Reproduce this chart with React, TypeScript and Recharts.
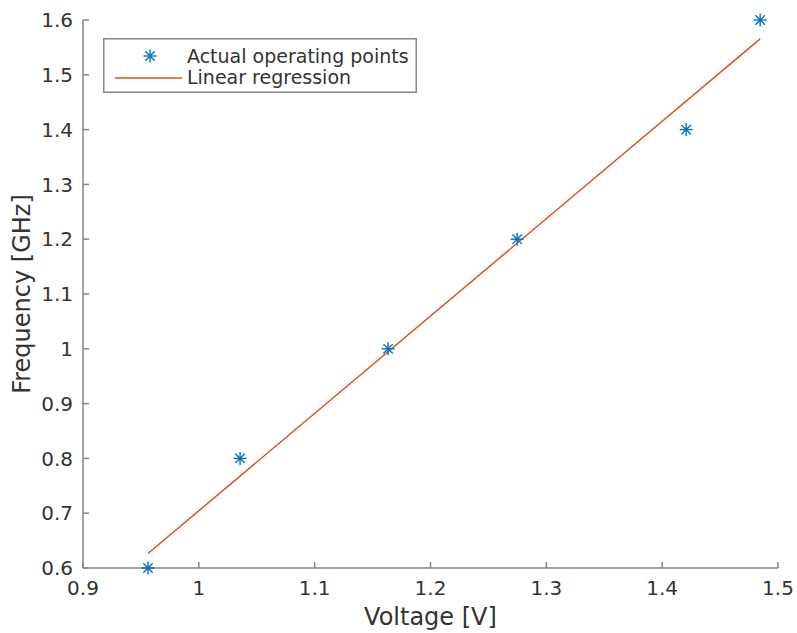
import React from 'react';
import { ComposedChart, Scatter, XAxis, YAxis, Legend } from 'recharts';

const voltages = [0.9561, 1.0356, 1.1634, 1.2748, 1.4207, 1.4846];
const frequencies = [0.6, 0.8, 1.0, 1.2, 1.4, 1.6];
const regressionX = [0.9561, 1.4846];
const regressionY = [0.6265, 1.5655];
const xTicks = [0.9, 1, 1.1, 1.2, 1.3, 1.4, 1.5];
const yTicks = [0.6, 0.7, 0.8, 0.9, 1, 1.1, 1.2, 1.3, 1.4, 1.5, 1.6];
const seriesNames = ['Actual operating points', 'Linear regression'];

const pointData = voltages.map((v, i) => ({ x: v, y: frequencies[i] }));
const lineData = regressionX.map((v, i) => ({ x: v, y: regressionY[i] }));

const BLUE = '#0072BD';
const ORANGE = '#D95319';
const AXIS = '#858585';
const TEXT = '#333333';
const FONT = '"DejaVu Sans", sans-serif';

const Star = (props: any) => {
  const { cx, cy } = props;
  if (cx == null || cy == null) return null;
  const r = 6.5;
  const d = r * 0.72;
  return (
    <g stroke={BLUE} strokeWidth={1.4}>
      <line x1={cx - r} y1={cy} x2={cx + r} y2={cy} />
      <line x1={cx} y1={cy - r} x2={cx} y2={cy + r} />
      <line x1={cx - d} y1={cy - d} x2={cx + d} y2={cy + d} />
      <line x1={cx - d} y1={cy + d} x2={cx + d} y2={cy - d} />
    </g>
  );
};

const NoShape = () => null;

const LegendBox = () => (
  <svg width={314} height={55} style={{ display: 'block' }}>
    <rect x={0.75} y={0.75} width={312.5} height={53.5} fill="#fff" stroke={AXIS} strokeWidth={1.5} />
    <Star cx={47} cy={18} />
    <text x={84} y={18} dy="0.36em" fontFamily={FONT} fontSize={19} fill={TEXT}>{seriesNames[0]}</text>
    <line x1={12} y1={40} x2={79} y2={40} stroke={ORANGE} strokeWidth={1.5} />
    <text x={84} y={39} dy="0.36em" fontFamily={FONT} fontSize={19} fill={TEXT}>{seriesNames[1]}</text>
  </svg>
);

const YLabel = (props: any) => {
  const vb = props.viewBox || { y: 20, height: 548 };
  const x = 30;
  const y = vb.y + vb.height / 2;
  return (
    <text x={x} y={y} transform={`rotate(-90, ${x}, ${y})`} textAnchor="middle" fontFamily={FONT} fontSize={24} fill={TEXT}>
      Frequency [GHz]
    </text>
  );
};

const XLabel = (props: any) => {
  const vb = props.viewBox || { x: 83, width: 695 };
  const x = vb.x + vb.width / 2;
  return (
    <text x={x} y={625} textAnchor="middle" fontFamily={FONT} fontSize={24} fill={TEXT}>
      Voltage [V]
    </text>
  );
};

export default function App() {
  return (
    <div style={{ position: 'absolute', left: 0, top: 0, width: 797, height: 633, background: '#fff' }}>
      <ComposedChart width={797} height={633} margin={{ top: 20, right: 19, bottom: 0, left: 0 }}>
        <XAxis
          type="number"
          dataKey="x"
          domain={[0.9, 1.5]}
          ticks={xTicks}
          height={65}
          stroke={AXIS}
          strokeWidth={1.5}
          tickSize={-6}
          tickMargin={19}
          tick={{ fill: TEXT, fontSize: 20, fontFamily: FONT }}
          label={{ content: XLabel }}
        />
        <YAxis
          type="number"
          dataKey="y"
          domain={[0.6, 1.6]}
          ticks={yTicks}
          width={83}
          stroke={AXIS}
          strokeWidth={1.5}
          tickSize={-6}
          tickMargin={16}
          tick={{ fill: TEXT, fontSize: 20, fontFamily: FONT }}
          label={{ content: YLabel }}
        />
        <Scatter
          name={seriesNames[1]}
          data={lineData}
          line={{ stroke: ORANGE, strokeWidth: 1.5 }}
          shape={NoShape}
          isAnimationActive={false}
        />
        <Scatter
          name={seriesNames[0]}
          data={pointData}
          shape={Star}
          isAnimationActive={false}
        />
        <Legend
          layout="horizontal"
          verticalAlign="middle"
          content={LegendBox}
          wrapperStyle={{ position: 'absolute', left: 103, top: 38, width: 314, height: 55 }}
        />
      </ComposedChart>
    </div>
  );
}
